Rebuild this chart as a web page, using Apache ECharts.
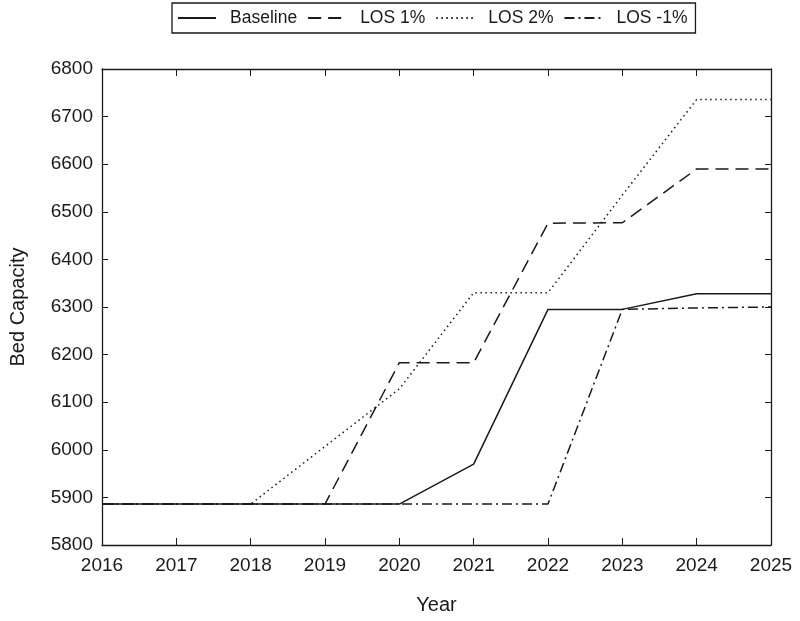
<!DOCTYPE html>
<html><head><meta charset="utf-8">
<script src="https://cdn.jsdelivr.net/npm/echarts@6/dist/echarts.min.js"></script>
<style>html,body{margin:0;padding:0;background:#fff}#c{width:800px;height:621px}</style>
</head><body><div id="c"></div>
<script>
const years = [2016, 2017, 2018, 2019, 2020, 2021, 2022, 2023, 2024, 2025];
const baseline = [5886, 5886, 5886, 5886, 5886, 5970, 6295, 6295, 6328, 6328];
const los1 = [5886, 5886, 5886, 5886, 6183, 6183, 6476, 6477, 6590, 6590];
const los2 = [5886, 5886, 5886, 6007, 6128, 6330, 6330, 6535, 6736, 6736];
const losm1 = [5886, 5886, 5886, 5886, 5886, 5886, 5886, 6295, 6298, 6300];
const seriesNames = ['Baseline', 'LOS 1%', 'LOS 2%', 'LOS -1%'];
const yTicks = {min: 5800, max: 6800, interval: 100};

const font = 'Liberation Sans, Arial, sans-serif';
const ink = '#1a1a1a';
const pair = arr => years.map((y, i) => [y, arr[i]]);
const styles = [
  {type: 'solid'},
  {type: [13, 7]},
  {type: [1.5, 3.5]},
  {type: [10, 4, 2, 4]}
];
const datas = [baseline, los1, los2, losm1];

const chart = echarts.init(document.getElementById('c'), null, {renderer: 'canvas'});
chart.setOption({
  animation: false,
  backgroundColor: '#fff',
  legend: {
    top: 3, left: 172,
    itemWidth: 38, itemHeight: 12, itemGap: 10,
    padding: [6, 8, 6, 5],
    borderColor: ink, borderWidth: 1.3,
    itemStyle: {color: 'rgba(0,0,0,0)', borderColor: 'rgba(0,0,0,0)', borderWidth: 0, opacity: 0},
    textStyle: {fontFamily: font, fontSize: 17.5, color: ink, padding: [0, 0, 0, 9]},
    data: seriesNames
  },
  grid: {left: 100, right: 29, top: 69, bottom: 76},
  xAxis: [{
    type: 'value', min: years[0], max: years[years.length - 1], interval: 1,
    name: 'Year', nameLocation: 'middle', nameGap: 50,
    nameTextStyle: {fontFamily: font, fontSize: 20, color: ink},
    axisLine: {lineStyle: {color: ink, width: 1.3}},
    axisTick: {inside: true, length: 7, lineStyle: {color: ink}},
    axisLabel: {fontFamily: font, fontSize: 19, color: ink, margin: 11, formatter: v => String(v)},
    splitLine: {show: false}
  }, {
    type: 'value', position: 'top', min: years[0], max: years[years.length - 1], interval: 1,
    axisLine: {show: true, lineStyle: {color: ink, width: 1.3}},
    axisTick: {inside: true, length: 7, lineStyle: {color: ink}},
    axisLabel: {show: false}, splitLine: {show: false}
  }],
  yAxis: [{
    type: 'value', min: yTicks.min, max: yTicks.max, interval: yTicks.interval,
    name: 'Bed Capacity', nameLocation: 'middle', nameGap: 74, nameRotate: 90,
    nameTextStyle: {fontFamily: font, fontSize: 20, color: ink},
    axisLine: {show: true, lineStyle: {color: ink, width: 1.3}},
    axisTick: {show: true, inside: true, length: 6, lineStyle: {color: ink}},
    axisLabel: {fontFamily: font, fontSize: 19, color: ink, margin: 9, formatter: v => String(v)},
    splitLine: {show: false}
  }, {
    type: 'value', position: 'right', min: yTicks.min, max: yTicks.max, interval: yTicks.interval,
    axisLine: {show: true, lineStyle: {color: ink, width: 1.3}},
    axisTick: {show: true, inside: true, length: 6, lineStyle: {color: ink}},
    axisLabel: {show: false}, splitLine: {show: false}
  }],
  series: seriesNames.map((n, i) => ({
    name: n, type: 'line', data: pair(datas[i]),
    symbol: 'none', showSymbol: false,
    itemStyle: {color: ink},
    lineStyle: Object.assign({color: ink, width: 1.5}, styles[i]),
    z: 3
  }))
});
</script></body></html>
